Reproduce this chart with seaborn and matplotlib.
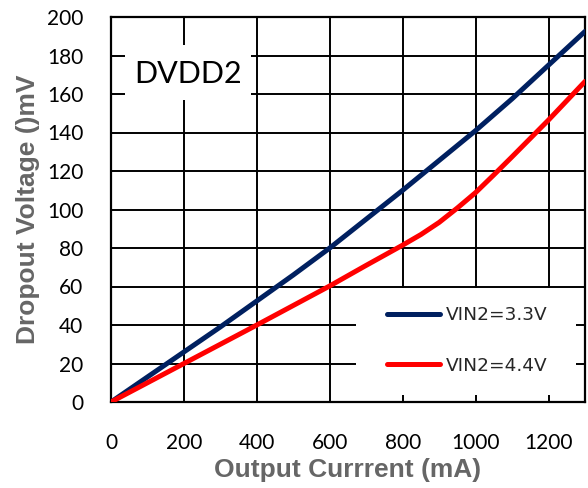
import matplotlib
matplotlib.use("Agg")
import matplotlib.pyplot as plt
from matplotlib.patches import Rectangle
from matplotlib.lines import Line2D
import seaborn as sns
import pandas as pd

# Data
x_33 = [0, 100, 200, 300, 400, 500, 600, 700, 800, 900, 1000, 1100, 1200, 1300]
y_33 = [0, 13, 26, 39, 52.5, 66, 80, 95, 110, 125.5, 141, 157.5, 175, 192.5]
x_44 = [0, 200, 400, 600, 700, 800, 850, 900, 950, 1000, 1050, 1100, 1200, 1300]
y_44 = [0, 20, 40, 60.3, 71, 81.5, 87, 93.3, 100.8, 108.8, 118, 127.4, 146.5, 166.5]
labels = ["VIN2=3.3V", "VIN2=4.4V"]
colors = ["#002060", "#FF0000"]
x_ticks = [0, 200, 400, 600, 800, 1000, 1200]
y_ticks = list(range(0, 201, 20))

sns.set_theme(style="white")
plt.rcParams['font.family'] = ['Lato', 'DejaVu Sans']

fig = plt.figure(figsize=(5.88, 4.88), dpi=100)
ax = fig.add_axes([111/588, 1 - 402/488, (585-111)/588, (402-17)/488])

df = pd.concat([
    pd.DataFrame({"x": x_33, "y": y_33, "s": labels[0]}),
    pd.DataFrame({"x": x_44, "y": y_44, "s": labels[1]}),
])
sns.lineplot(data=df, x="x", y="y", hue="s", palette=dict(zip(labels, colors)),
             linewidth=3.6, ax=ax, zorder=3, legend=False, sort=False)
for l in ax.get_lines():
    l.set_solid_joinstyle("round")

ax.set_xlim(0, 1300)
ax.set_ylim(0, 200)
ax.set_xticks(x_ticks)
ax.set_yticks(y_ticks)
ax.grid(True, color="black", linewidth=1.4)
ax.set_axisbelow(True)
for sp in ax.spines.values():
    sp.set_color("black")
    sp.set_linewidth(1.6)
    sp.set_visible(True)
ax.tick_params(length=0, labelsize=15, colors="black")
ax.tick_params(axis="x", pad=22)
ax.tick_params(axis="y", pad=20)

# white boxes covering the grid (text box and legend area)
ax.add_patch(Rectangle((38, 157), 347, 28.5, facecolor="white", edgecolor="none", zorder=1))
ax.add_patch(Rectangle((672, 3.6), 604, 55.6, facecolor="white", edgecolor="none", zorder=1))
ax.text(211, 170.5, "DVDD2", fontsize=22, ha="center", va="center", color="black", zorder=4)

handles = [Line2D([0], [0], color=c, lw=3.6, solid_capstyle="round") for c in colors]
leg = ax.legend(handles, labels, loc="center left",
                bbox_to_anchor=((387 - 111) / 474, (402 - 340.5) / 385),
                frameon=False, prop={"family": "DejaVu Sans", "size": 13.3},
                handlelength=2.86, handletextpad=0.3,
                labelspacing=1.75, borderaxespad=0, borderpad=0)

ax.set_xlabel("Output Currrent (mA)", fontsize=19, fontweight="bold", color="#666666",
              family=["Liberation Sans", "DejaVu Sans"], labelpad=4)
ax.set_ylabel("Dropout Voltage ()mV", fontsize=19, fontweight="bold", color="#666666",
              family=["Liberation Sans", "DejaVu Sans"], labelpad=5)

fig.savefig("out.png", dpi=100)
